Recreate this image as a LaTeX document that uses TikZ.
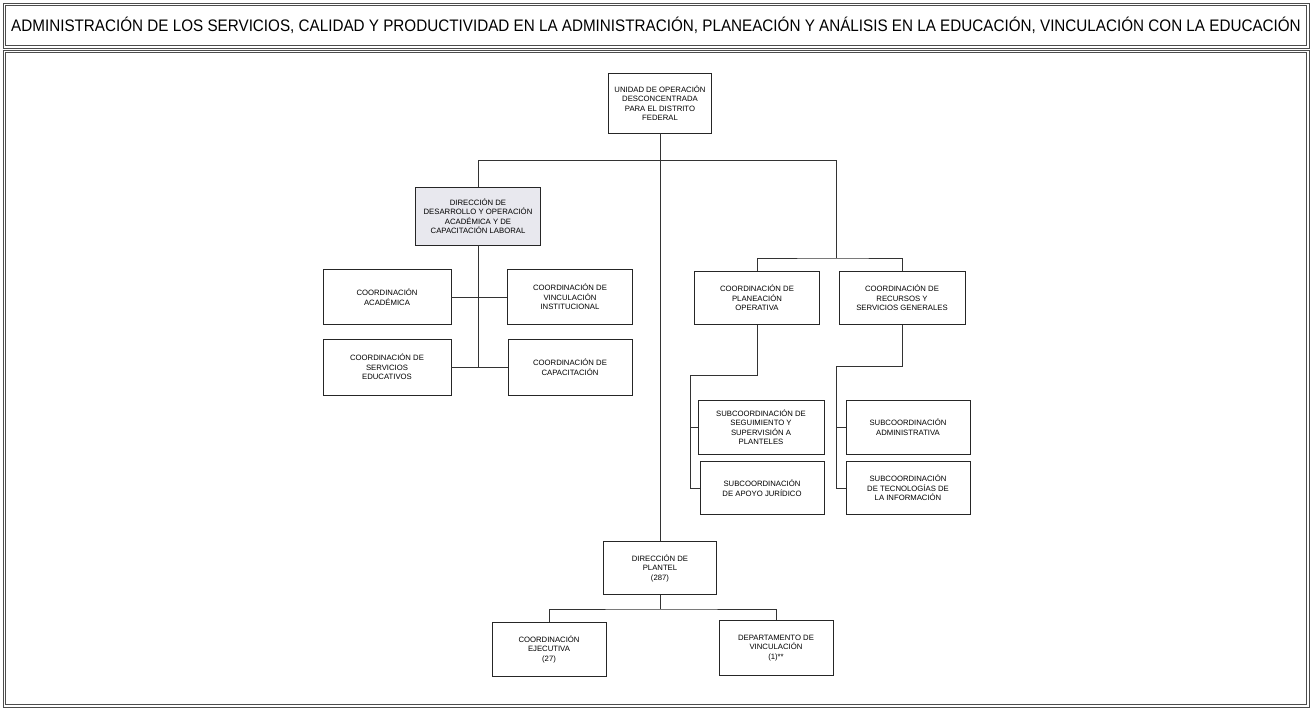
\documentclass[tikz,border=0pt]{standalone}
\usepackage{fontspec}
\usepackage{graphicx}
\setmainfont{Liberation Sans}
\definecolor{ddoafill}{RGB}{232,232,238}

\begin{document}
\begin{tikzpicture}[x=0.02cm,y=-0.02cm,
    outerbox/.style={draw=black!70,line width=0.45pt},
    unit/.style 2 args={draw=black!85,line width=0.55pt,align=center,inner sep=1pt,
      minimum width=#1*0.02cm,minimum height=#2*0.02cm,
      font=\fontsize{4.4}{5.4}\selectfont},
    link/.style={draw=black!80,line width=0.55pt}]
      \useasboundingbox (0,0) rectangle (1312,710);
      % marcos dobles
      \draw[outerbox] (3,3) rectangle (1309,48);
      \draw[outerbox] (5.5,5.5) rectangle (1306.5,45.5);
      \draw[outerbox] (3,50) rectangle (1309,707);
      \draw[outerbox] (5.5,52.5) rectangle (1306.5,704.5);
      \node (title) at (656,25) {\resizebox{734pt}{\height}{\fontsize{9.5}{11}\selectfont
        ADMINISTRACIÓN DE LOS SERVICIOS, CALIDAD Y PRODUCTIVIDAD EN LA ADMINISTRACIÓN,
        PLANEACIÓN Y ANÁLISIS EN LA EDUCACIÓN, VINCULACIÓN CON LA EDUCACIÓN}};

      % unidad y direcciones
      \node[unit={103}{60}] (uodf) at (660,103)
        {UNIDAD DE OPERACIÓN\\DESCONCENTRADA\\PARA EL DISTRITO\\FEDERAL};
      \node[unit={125}{58},fill=ddoafill] (ddoa) at (478,216)
        {DIRECCIÓN DE\\DESARROLLO Y OPERACIÓN\\ACADÉMICA Y DE\\CAPACITACIÓN LABORAL};
      \node[unit={113}{53}] (dplan) at (660,568) {DIRECCIÓN DE\\PLANTEL\\(287)};

      \begin{scope}
        \node[unit={128}{55}] (cacad) at (387,297) {COORDINACIÓN\\ACADÉMICA};
        \node[unit={125}{55}] (cvinc) at (570,297)
          {COORDINACIÓN DE\\VINCULACIÓN\\INSTITUCIONAL};
        \node[unit={128}{56}] (cserv) at (387,367)
          {COORDINACIÓN DE\\SERVICIOS\\EDUCATIVOS};
        \node[unit={124}{56}] (ccap) at (570,367) {COORDINACIÓN DE\\CAPACITACIÓN};
      \end{scope}

      \begin{scope}
        \node[unit={125}{53}] (cplan) at (757,298)
          {COORDINACIÓN DE\\PLANEACIÓN\\OPERATIVA};
        \node[unit={126}{53}] (crec) at (902,298)
          {COORDINACIÓN DE\\RECURSOS Y\\SERVICIOS GENERALES};
        \node[unit={126}{54}] (sseg) at (761,427)
          {SUBCOORDINACIÓN DE\\SEGUIMIENTO Y\\SUPERVISIÓN A\\PLANTELES};
        \node[unit={124}{53}] (sjur) at (762,488)
          {SUBCOORDINACIÓN\\DE APOYO JURÍDICO};
        \node[unit={124}{54}] (sadm) at (908,427)
          {SUBCOORDINACIÓN\\ADMINISTRATIVA};
        \node[unit={124}{53}] (stec) at (908,488)
          {SUBCOORDINACIÓN\\DE TECNOLOGÍAS DE\\LA INFORMACIÓN};
      \end{scope}

      \node[unit={114}{54}] (cejec) at (549,649) {COORDINACIÓN\\EJECUTIVA\\(27)};
      \node[unit={114}{55}] (dvinc) at (776,648) {DEPARTAMENTO DE\\VINCULACIÓN\\(1)**};

      \coordinate (busR) at (836,160);
      \coordinate (jR) at (836,258);
      \coordinate (jA) at (478,367);
      \coordinate (jP) at (690,375);
      \coordinate (jS) at (836,366);
      \coordinate (jD) at (660,609);

      \draw[link] (uodf.south) -- (dplan.north);
      \draw[link] (ddoa.north) |- (busR) -- (jR);
      \draw[link] (cplan.north) |- (jR) -| (crec.north);
      \draw[link] (ddoa.south) -- (jA);
      \draw[link] (cacad.east) -- (cvinc.west);
      \draw[link] (cserv.east) -- (ccap.west);
      \draw[link] (cplan.south) |- (jP) |- (sjur.west);
      \draw[link] (jP |- sseg.west) -- (sseg.west);
      \draw[link] (crec.south) |- (jS) |- (stec.west);
      \draw[link] (jS |- sadm.west) -- (sadm.west);
      \draw[link] (dplan.south) -- (jD);
      \draw[link] (cejec.north) |- (jD) -| (dvinc.north);
      % \draw[link] (uodf.south) |- (busR);
    \end{tikzpicture}
\end{document}
